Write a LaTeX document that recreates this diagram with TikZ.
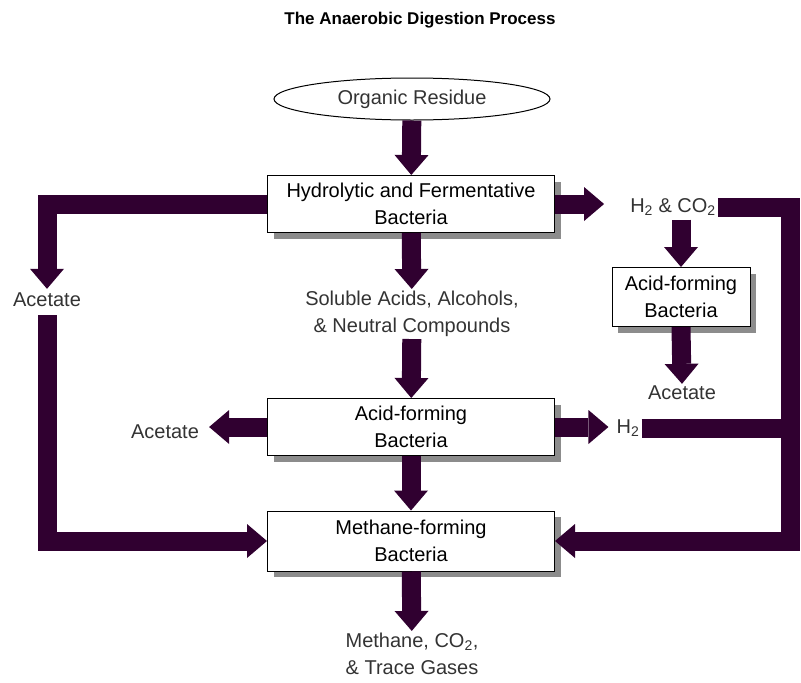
\documentclass[tikz,border=0pt]{standalone}
\usepackage{fontspec}
\setmainfont{Liberation Sans}
\usetikzlibrary{arrows.meta,shapes.geometric,shadows}
\definecolor{plum}{RGB}{48,0,48}
\tikzstyle{bact} = [rectangle, draw, fill=white, line width=1pt,
    minimum width=287pt, minimum height=57pt, align=center,
    drop shadow={shadow xshift=6pt, shadow yshift=-6pt, fill=black!45, opacity=1}]
\tikzstyle{lbl} = [align=center, text=black!80, inner sep=2pt]
\tikzstyle{fat} = [draw=plum, line width=19pt, line join=miter,
    -{Triangle[width=34pt,length=20pt,line width=0pt]}]
\tikzstyle{bar} = [draw=plum, line width=19pt, line join=miter]

\begin{document}
\begin{tikzpicture}[x=1pt,y=-1pt,font=\fontsize{20}{27}\selectfont]
  \useasboundingbox (0,0) rectangle (801,683);
  \node[font=\fontsize{17}{20}\selectfont\bfseries] (title) at (420,20) {The Anaerobic Digestion Process};

  \node[ellipse, draw, line width=1pt, minimum width=276pt, minimum height=42pt, inner sep=0pt, text=black!80]
    (res) at (412,99) {Organic Residue};
  \node[bact] (hyd)  at (411,204) {Hydrolytic and Fermentative\\Bacteria};
  \node[lbl]  (sol)  at (412,314) {Soluble Acids, Alcohols,\\\& Neutral Compounds};
  \node[bact] (acid) at (411,427) {Acid-forming\\Bacteria};
  \node[bact,minimum height=60pt] (meth) at (411,541) {Methane-forming\\Bacteria};
  \node[lbl]  (out)  at (412,654) {Methane, CO\textsubscript{2},\\\& Trace Gases};

  \node[lbl] (acL) at (47,300) {Acetate};
  \node[lbl] (acM) at (165,432) {Acetate};
  \node[lbl] (h2co2) at (673,207) {H\textsubscript{2} \& CO\textsubscript{2}};
  \node[bact,minimum width=138pt,minimum height=59pt] (acidR) at (681,297) {Acid-forming\\Bacteria};
  \node[lbl] (acR) at (682,393) {Acetate};
  \node[lbl] (h2) at (628,428) {H\textsubscript{2}};
  \coordinate (rc) at (790,541);

  % main column
  \path[fat] (res) -- (hyd);
  \path[fat] (hyd) -- (sol);
  \path[fat] (sol) -- (acid);
  \path[fat] (acid) -- (meth);
  \path[fat] (meth) -- (out);

  % left side
  \path[fat,shorten >=2pt] (hyd.west) -| (acL.north);
  \path[fat,shorten <=6pt] (acL.south) |- (meth.west);
  \path[fat,shorten >=8pt] (acid.west) -- (acid.west -| acM.east);

  % right side
  \path[fat,shorten >=24pt] (hyd.east) -- (hyd.east -| h2co2.west);
  \path[fat,shorten <=2pt] (h2co2.south -| acidR.north) -- (acidR.north);
  \path[fat] (acidR.south) -- (acR.north);
  \path[fat,shorten >=6pt] (acid.east) -- (acid.east -| h2.west);
  \path[bar] (h2.east) -- (h2.east -| rc);
  \path[fat] (h2co2.east) -| (rc) -- (meth.east);
\end{tikzpicture}
\end{document}
